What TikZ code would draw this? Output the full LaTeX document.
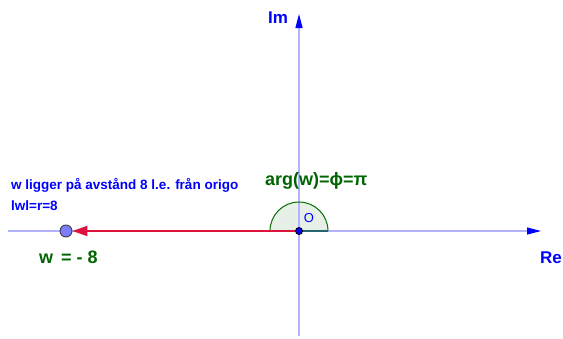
\documentclass[tikz,border=0pt]{standalone}
\usepackage{fontspec}
\setmainfont{Liberation Sans}
\usetikzlibrary{arrows.meta}
\definecolor{axiscol}{RGB}{178,178,255}
\definecolor{axisarrow}{RGB}{0,0,255}
\definecolor{txtblue}{RGB}{0,0,255}
\definecolor{txtgreen}{RGB}{0,100,0}
\definecolor{redvec}{RGB}{220,20,60}
\definecolor{sectorfill}{RGB}{230,240,230}
\definecolor{sectordraw}{RGB}{0,110,0}
\definecolor{sectorbase}{RGB}{40,100,110}
\definecolor{wfill}{RGB}{125,125,255}
\definecolor{wdraw}{RGB}{60,60,60}
\tikzset{
  axisline/.style={draw=axiscol, line width=1.2pt, -{Triangle[length=14pt,width=7pt,color=axisarrow]}},
  axislabel/.style={text=txtblue, font=\bfseries\fontsize{17}{20}\selectfont, inner sep=0pt},
  bluetext/.style={text=txtblue, font=\bfseries\fontsize{13.5}{16}\selectfont, inner sep=0pt, anchor=west},
  greentext/.style={text=txtgreen, font=\bfseries, inner sep=0pt},
  vec/.style={draw=redvec, line width=2pt, -{Triangle[length=15pt,width=10pt]}},
  wpoint/.style={circle, fill=wfill, draw=wdraw, line width=0.9pt, minimum size=12pt, inner sep=0pt},
  opoint/.style={circle, fill=axisarrow, draw=black, line width=0.8pt, minimum size=7pt, inner sep=0pt}
}
\begin{document}
\begin{tikzpicture}[x=1pt,y=-1pt]
\useasboundingbox (0,0) rectangle (563,338);
\fill[white] (0,0) rectangle (563,338);
\coordinate (O) at (299,231);
\coordinate (xs) at (8,231);
\coordinate (xe) at (541,231);
\coordinate (ys) at (299,336);
\coordinate (ye) at (299,14);
% sector
\fill[sectorfill] (328,231) arc[start angle=0,end angle=-180,radius=29] -- cycle;
% axes
\draw[axisline] (xs) -- (xe);
\draw[axisline] (ys) -- (ye);
% sector outline
\draw[sectordraw, line width=1pt] (328,231) arc[start angle=0,end angle=-180,radius=29];
\draw[sectorbase, line width=1.3pt] (O) -- (328,231);
% point w and vector
\node[wpoint] (w) at (66,231) {};
\draw[vec] (O) -- (w.east);
\node[opoint] (o) at (O) {};
% labels
\node[axislabel, anchor=west] (im) at (268,18) {Im};
\node[axislabel, anchor=west] (re) at (540,258) {Re};
\node[text=txtblue, font=\fontsize{13}{15}\selectfont, inner sep=0pt] (olab) at (309,218) {O};
\node[bluetext] (t1) at (11,185) {w ligger på avstånd 8 l.e. från origo};
\node[bluetext] (t2) at (11,206) {lwl=r=8};
\node[greentext, font=\bfseries\fontsize{18}{21}\selectfont, anchor=west] (arg) at (265,181) {arg(w)=ϕ=π};
\node[greentext, font=\bfseries\fontsize{18}{21}\selectfont, anchor=west] (wl) at (39,257) {w \,= - 8};
\end{tikzpicture}
\end{document}
